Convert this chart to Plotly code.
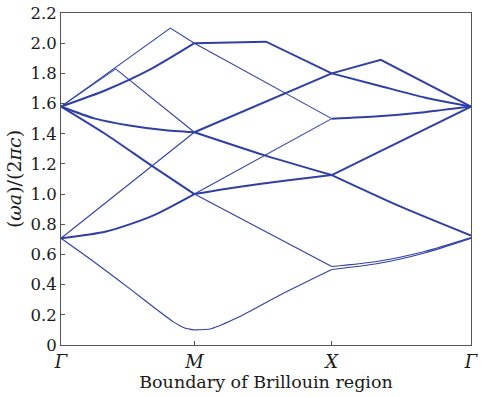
import plotly.graph_objects as go

# k-path positions of high-symmetry points (Γ, M, X, Γ)
k_points = [0.0, 0.976, 1.981, 3.0]
k_labels = ["Γ", "M", "X", "Γ"]
y_ticks = [0, 0.2, 0.4, 0.6, 0.8, 1.0, 1.2, 1.4, 1.6, 1.8, 2.0, 2.2]
y_ticktext = ["0", "0.2", "0.4", "0.6", "0.8", "1.0", "1.2", "1.4", "1.6", "1.8", "2.0", "2.2"]

# ---- Γ–M segment ----
gm_L1_k = [0.0, 0.80, 0.976];            gm_L1_f = [1.58, 2.10, 2.00]
gm_L2_k = [0.0, 0.40, 0.976];            gm_L2_f = [1.58, 1.83, 1.41]
gm_L3_k = [0.0, 0.33, 0.66, 0.976];       gm_L3_f = [1.58, 1.69, 1.83, 2.00]
gm_L4_k = [0.0, 0.25, 0.50, 0.75, 0.976]; gm_L4_f = [1.58, 1.50, 1.455, 1.425, 1.41]
gm_L5_k = [0.0, 0.33, 0.66, 0.976];       gm_L5_f = [1.58, 1.395, 1.19, 1.00]
gm_L6_k = [0.0, 0.976];                  gm_L6_f = [0.707, 1.41]
gm_L7_k = [0.0, 0.33, 0.66, 0.976];       gm_L7_f = [0.707, 0.752, 0.852, 1.00]
gm_L8_k = [0.0, 0.25, 0.50, 0.70, 0.82, 0.90, 0.976]
gm_L8_f = [0.707, 0.545, 0.375, 0.235, 0.155, 0.115, 0.10]

# ---- M–X segment ----
mx_1_k = [0.976, 1.25, 1.50, 1.981];  mx_1_f = [2.00, 2.005, 2.01, 1.80]
mx_2_k = [0.976, 1.981];              mx_2_f = [2.00, 1.50]
mx_3_k = [0.976, 1.981];              mx_3_f = [1.41, 1.80]
mx_4_k = [0.976, 1.48, 1.981];        mx_4_f = [1.41, 1.26, 1.126]
mx_5_k = [0.976, 1.981];              mx_5_f = [1.00, 1.50]
mx_6_k = [0.976, 1.31, 1.65, 1.981];  mx_6_f = [1.00, 1.048, 1.09, 1.126]
mx_7_k = [0.976, 1.981];              mx_7_f = [1.00, 0.52]
mx_8_k = [0.976, 1.10, 1.30, 1.60, 1.981]; mx_8_f = [0.10, 0.108, 0.185, 0.33, 0.50]

# ---- X–Γ segment ----
xg_1_k = [1.981, 2.34, 3.0];           xg_1_f = [1.80, 1.89, 1.58]
xg_2_k = [1.981, 2.32, 2.66, 3.0];     xg_2_f = [1.80, 1.72, 1.64, 1.58]
xg_3_k = [1.981, 2.32, 2.66, 3.0];     xg_3_f = [1.50, 1.516, 1.543, 1.58]
xg_4_k = [1.981, 3.0];                 xg_4_f = [1.126, 1.58]
xg_5_k = [1.981, 2.49, 3.0];           xg_5_f = [1.126, 0.915, 0.725]
xg_6_k = [1.981, 2.32, 2.66, 3.0];     xg_6_f = [0.50, 0.54, 0.61, 0.707]
xg_7_k = [1.981, 2.32, 2.66, 3.0];     xg_7_f = [0.52, 0.555, 0.62, 0.712]

thin = 1.1
thick = 2.0
# (k, f, width, shape) — kinked bands drawn with straight segments
bands = [
    (gm_L1_k, gm_L1_f, thin, "linear"), (gm_L2_k, gm_L2_f, thin, "linear"),
    (gm_L3_k, gm_L3_f, thick, "spline"), (gm_L4_k, gm_L4_f, thick, "spline"),
    (gm_L5_k, gm_L5_f, thick, "spline"), (gm_L6_k, gm_L6_f, thin, "linear"),
    (gm_L7_k, gm_L7_f, thick, "spline"), (gm_L8_k, gm_L8_f, thin, "spline"),
    (mx_1_k, mx_1_f, thick, "linear"), (mx_2_k, mx_2_f, thin, "linear"),
    (mx_3_k, mx_3_f, thick, "linear"), (mx_4_k, mx_4_f, thick, "spline"),
    (mx_5_k, mx_5_f, thin, "linear"), (mx_6_k, mx_6_f, thick, "spline"),
    (mx_7_k, mx_7_f, thin, "linear"), (mx_8_k, mx_8_f, thin, "spline"),
    (xg_1_k, xg_1_f, thick, "linear"), (xg_2_k, xg_2_f, thick, "spline"),
    (xg_3_k, xg_3_f, thick, "spline"), (xg_4_k, xg_4_f, thick, "linear"),
    (xg_5_k, xg_5_f, thick, "spline"), (xg_6_k, xg_6_f, thin, "spline"),
    (xg_7_k, xg_7_f, thin, "spline"),
]

line_color = "#2f40a4"
fig = go.Figure()
for k, f, w, shape in bands:
    fig.add_trace(go.Scatter(x=k, y=f, mode="lines",
                             line=dict(color=line_color, width=w, shape=shape, smoothing=0.7),
                             hoverinfo="skip", showlegend=False))

serif = "DejaVu Serif"
txt = "#1a1a1a"
fig.update_layout(
    width=482, height=397,
    margin=dict(l=61, r=3, t=13, b=52),
    paper_bgcolor="white", plot_bgcolor="white",
    font=dict(family=serif, size=16, color=txt),
    xaxis=dict(range=[0, 3], tickvals=k_points,
               ticktext=["<i>%s</i>" % s for s in k_labels],
               ticks="inside", ticklen=4, tickcolor="#555",
               ticklabeloverflow="allow",
               showline=True, mirror=True, linecolor="#555", linewidth=1,
               showgrid=False, zeroline=False,
               tickfont=dict(family=serif, size=18, color=txt),
               title=dict(text="Boundary of Brillouin region", standoff=2,
                          font=dict(family=serif, size=17.5, color=txt))),
    yaxis=dict(range=[0, 2.2], tickvals=y_ticks, ticktext=y_ticktext,
               ticks="inside", ticklen=4, tickcolor="#555",
               showline=True, mirror=True, linecolor="#555", linewidth=1,
               showgrid=False, zeroline=False,
               tickfont=dict(family=serif, size=16.5, color=txt),
               title=dict(text="(<i>ωa</i>)/(2<i>πc</i>)", standoff=3,
                          font=dict(family=serif, size=19, color=txt))),
)

fig.write_html("out.html")
